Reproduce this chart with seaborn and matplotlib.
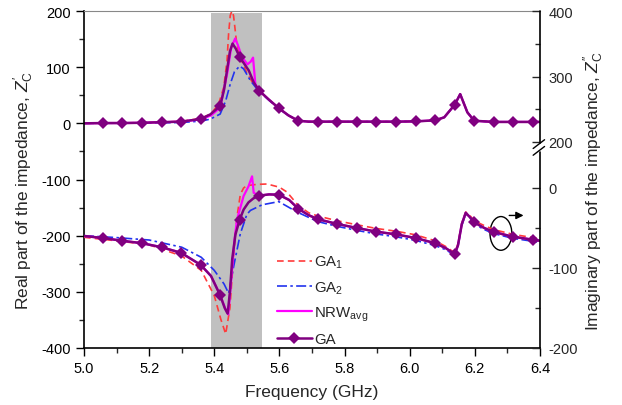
import numpy as np
import matplotlib
matplotlib.use("Agg")
import matplotlib.pyplot as plt
import seaborn as sns
from matplotlib.patches import Ellipse
from matplotlib.lines import Line2D
from matplotlib.ticker import MultipleLocator, FormatStrFormatter

# ---------------- data ----------------
# Real part (left axis) -- resonance region per series, common tail
real_ga_f = [5.0, 5.058, 5.118, 5.178, 5.238, 5.298, 5.358, 5.388, 5.418, 5.43, 5.439, 5.448,
             5.456, 5.466, 5.478, 5.506, 5.521, 5.538, 5.568, 5.598]
real_ga_v = [0, 0.5, 0.5, 1, 2, 3, 7.7, 16, 31, 60, 94, 128, 142, 133, 118, 94, 73, 58, 42, 27]

real_ga1_f = [5.0, 5.1, 5.2, 5.3, 5.36, 5.39, 5.413, 5.429, 5.439, 5.444, 5.449, 5.454,
              5.459, 5.463, 5.469, 5.48, 5.5, 5.52, 5.54, 5.568, 5.598]
real_ga1_v = [0, 0.5, 1.5, 3.5, 9, 17, 34, 64, 111, 160, 192, 200, 192, 172, 141, 117,
              90, 70, 57, 42, 27]

real_ga2_f = [5.0, 5.2, 5.3, 5.36, 5.388, 5.418, 5.435, 5.449, 5.462, 5.478, 5.49, 5.511,
              5.53, 5.54, 5.568, 5.598]
real_ga2_v = [0, 0.5, 1.5, 4, 7.6, 16.5, 40, 70, 92, 102, 97, 76, 62, 56, 41, 26]

real_nrw_f = [5.0, 5.058, 5.118, 5.178, 5.238, 5.298, 5.358, 5.39, 5.418, 5.44, 5.452,
              5.464, 5.472, 5.485, 5.502, 5.512, 5.519, 5.526, 5.538, 5.568, 5.598]
real_nrw_v = [0, 0.5, 0.5, 1, 2, 3, 7, 14, 28, 90, 135, 151, 140, 118, 105, 110, 117, 70,
              58, 42, 27]

real_tail_f = [5.628, 5.658, 5.69, 5.718, 5.778, 5.838, 5.898, 5.958, 6.018, 6.078, 6.106,
               6.138, 6.155, 6.177, 6.198, 6.258, 6.318, 6.378, 6.4]
real_tail_v = [14, 4.6, 3, 3, 3, 3, 3, 3, 3.5, 5.3, 10.7, 33, 52, 19.6, 4.6, 2.5, 2.5, 2.5, 2.5]

# Imaginary part (right axis)
imag_ga_f = [5.0, 5.058, 5.118, 5.178, 5.238, 5.298, 5.358, 5.39, 5.418, 5.432, 5.441,
             5.448, 5.455, 5.465, 5.478, 5.49, 5.505, 5.52]
imag_ga_v = [-60, -62.5, -66, -69, -74, -81, -96, -110, -134, -150, -157, -130, -89, -58,
             -39.6, -27, -18, -13]

imag_nrw_f = [5.0, 5.058, 5.118, 5.178, 5.238, 5.298, 5.358, 5.39, 5.418, 5.435, 5.443,
              5.452, 5.462, 5.47, 5.49, 5.505, 5.516, 5.521]
imag_nrw_v = [-60, -62.5, -66, -69, -74, -81, -96, -110, -134, -152, -158, -115, -65, -39,
              -10, 2, 14.6, -6]

imag_tail_f = [5.538, 5.568, 5.598, 5.63, 5.658, 5.69, 5.718, 5.778, 5.838, 5.898, 5.958,
               6.018, 6.078, 6.11, 6.138, 6.148, 6.16, 6.172, 6.186, 6.198, 6.229, 6.258,
               6.318, 6.378, 6.4]
imag_tail_v = [-9.6, -8, -8.4, -15, -26, -34, -39, -45, -50, -54.6, -58, -62.5, -69, -75,
               -82.5, -72, -45, -31, -37, -43, -50, -55, -61, -64.6, -66]

imag_ga1_f = [5.0, 5.1, 5.2, 5.3, 5.36, 5.4, 5.42, 5.435, 5.448, 5.46, 5.47, 5.48, 5.49,
              5.5, 5.53, 5.562, 5.6, 5.623, 5.658, 5.69, 5.718, 5.778, 5.838, 5.898, 5.958,
              6.018, 6.078, 6.11, 6.138, 6.148, 6.16, 6.172, 6.186, 6.198, 6.229, 6.258,
              6.318, 6.378, 6.4]
imag_ga1_v = [-61.6, -66, -71, -85, -103, -134.6, -164, -182.5, -150, -80, -35, -8, 0, 3,
              4.5, 5, 1, -5, -22, -31, -35, -41, -46, -50.6, -54, -58.5, -66, -73, -81,
              -70, -44, -30, -35, -41, -47, -52, -58, -62, -63]

imag_ga2_f = [5.0, 5.1, 5.2, 5.3, 5.36, 5.4, 5.43, 5.444, 5.46, 5.48, 5.5, 5.511, 5.547,
              5.598, 5.654, 5.718, 5.778, 5.838, 5.898, 5.958, 6.018, 6.078, 6.11, 6.138,
              6.148, 6.16, 6.172, 6.186, 6.198, 6.229, 6.258, 6.318, 6.378, 6.4]
imag_ga2_v = [-59.6, -62, -65, -74, -86.6, -103, -120, -131.6, -97, -57, -33, -28, -21,
              -17, -30, -42, -48, -53, -57.5, -61, -65.5, -72, -77, -84, -73, -47, -32,
              -38, -45, -52, -57, -63, -66.6, -68]

# frequencies where the GA curve carries a diamond marker
ga_marker_f = [5.058, 5.118, 5.178, 5.238, 5.298, 5.358, 5.418, 5.478, 5.538, 5.598, 5.658,
               5.718, 5.778, 5.838, 5.898, 5.958, 6.018, 6.078, 6.138, 6.198, 6.258, 6.318,
               6.378]

band = (5.389, 5.545)  # shaded region (GHz)

labels = ["GA$_\\mathrm{1}$", "GA$_\\mathrm{2}$", "NRW$_\\mathrm{avg}$", "GA"]

# ---------------- styling ----------------
sns.set_style("ticks")
plt.rcParams['font.family'] = ['Liberation Sans', 'DejaVu Sans']
plt.rcParams['mathtext.fontset'] = 'custom'
plt.rcParams['mathtext.rm'] = 'Liberation Sans'
plt.rcParams['mathtext.it'] = 'Liberation Sans:italic'
plt.rcParams['mathtext.bf'] = 'Liberation Sans:bold'
plt.rcParams['axes.unicode_minus'] = False

c_ga1, c_ga2, c_nrw, c_ga = '#ff3b3b', '#2233ee', '#ff00ff', '#800080'
ls_ga1 = (0, (4, 2.5))
ls_ga2 = (0, (6, 2, 1.5, 2))
msize = 6.5

fig = plt.figure(figsize=(6.22, 4.06), dpi=100)
ax = fig.add_axes([84 / 622, 57 / 406, 456 / 622, 337 / 406])
ax2 = ax.twinx()

# piecewise (broken) scale for the right axis
def fwd(v):
    v = np.asarray(v, float)
    return np.where(v <= 57.5, (v + 200) * 0.8,
                    np.where(v >= 200, 206 + (v - 200) * 0.655, 206.0))

def inv(u):
    u = np.asarray(u, float)
    return np.where(u <= 206, u / 0.8 - 200, 200 + (u - 206) / 0.655)

ax2.set_yscale('function', functions=(fwd, inv))

ax.axvspan(band[0], band[1], ymin=0, ymax=0.993, color='#c0c0c0', lw=0, zorder=0)

def cat(a, b):
    return np.array(list(a) + list(b), float)

def mk_idx(f):
    f = np.asarray(f)
    return [i for i, x in enumerate(f) if np.any(np.isclose(x, ga_marker_f, atol=1e-4))]

# Real part -> left axis
sns.lineplot(x=cat(real_ga1_f, real_tail_f), y=cat(real_ga1_v, real_tail_v), ax=ax,
             color=c_ga1, lw=1.2, linestyle=ls_ga1, estimator=None, sort=False)
sns.lineplot(x=cat(real_ga2_f, real_tail_f), y=cat(real_ga2_v, real_tail_v), ax=ax,
             color=c_ga2, lw=1.2, linestyle=ls_ga2, estimator=None, sort=False)
sns.lineplot(x=cat(real_nrw_f, real_tail_f), y=cat(real_nrw_v, real_tail_v), ax=ax,
             color=c_nrw, lw=1.6, estimator=None, sort=False)
fr = cat(real_ga_f, real_tail_f)
sns.lineplot(x=fr, y=cat(real_ga_v, real_tail_v), ax=ax, color=c_ga, lw=1.8,
             marker='D', markersize=msize, markevery=mk_idx(fr), markeredgewidth=0,
             estimator=None, sort=False)

# Imaginary part -> right axis
sns.lineplot(x=imag_ga1_f, y=imag_ga1_v, ax=ax2, color=c_ga1, lw=1.2, linestyle=ls_ga1,
             estimator=None, sort=False)
sns.lineplot(x=imag_ga2_f, y=imag_ga2_v, ax=ax2, color=c_ga2, lw=1.2, linestyle=ls_ga2,
             estimator=None, sort=False)
sns.lineplot(x=cat(imag_nrw_f, imag_tail_f), y=cat(imag_nrw_v, imag_tail_v), ax=ax2,
             color=c_nrw, lw=1.6, estimator=None, sort=False)
fi = cat(imag_ga_f, imag_tail_f)
sns.lineplot(x=fi, y=cat(imag_ga_v, imag_tail_v), ax=ax2, color=c_ga, lw=1.8,
             marker='D', markersize=msize, markevery=mk_idx(fi), markeredgewidth=0,
             estimator=None, sort=False)

# axes limits / ticks
ax.set_xlim(5.0, 6.4)
ax.set_ylim(-400, 200)
ax2.set_ylim(-200, 400)
ax.xaxis.set_major_locator(MultipleLocator(0.2))
ax.xaxis.set_minor_locator(MultipleLocator(0.1))
ax.xaxis.set_major_formatter(FormatStrFormatter('%.1f'))
ax.yaxis.set_major_locator(MultipleLocator(100))
ax.yaxis.set_minor_locator(MultipleLocator(50))
ax.yaxis.set_major_formatter(FormatStrFormatter('%d'))
ax2.set_yticks([-200, -100, 0, 200, 300, 400])
ax2.set_yticks([-150, -50, 250, 350], minor=True)
ax2.yaxis.set_major_formatter(FormatStrFormatter('%d'))

ax.tick_params(axis='both', which='major', direction='out', length=6, width=1,
               labelsize=10.5, colors='k', top=False, right=False)
ax.tick_params(axis='both', which='minor', direction='out', length=3.5, width=1,
               top=False, right=False)
ax2.tick_params(axis='y', which='major', direction='in', length=6, width=1,
                labelsize=10.5, right=True, left=False, pad=6)
ax2.tick_params(axis='y', which='minor', direction='in', length=3.5, width=1,
                right=True, left=False)

for s in ['left', 'bottom']:
    ax.spines[s].set_linewidth(1.2)
    ax.spines[s].set_color('k')
ax.spines['right'].set_visible(False)
ax.spines['top'].set_color('#888888')
ax.spines['top'].set_linewidth(0.8)
for s in ['left', 'bottom', 'top', 'right']:
    ax2.spines[s].set_visible(False)

# broken right spine
kw = dict(transform=ax2.transAxes, color='k', lw=1.2, clip_on=False)
ax2.add_artist(Line2D([1, 1], [0, 0.583], **kw))
ax2.add_artist(Line2D([1, 1], [0.607, 1], **kw))
ax2.add_artist(Line2D([0.985, 1.01], [0.572, 0.598], transform=ax2.transAxes, color='k',
                      lw=1.0, clip_on=False))
ax2.add_artist(Line2D([0.985, 1.01], [0.592, 0.618], transform=ax2.transAxes, color='k',
                      lw=1.0, clip_on=False))

# labels
lab_fs = 12.5
ax.set_xlabel("Frequency (GHz)", fontsize=lab_fs)
ax.set_ylabel("Real part of the impedance, $\\mathit{Z}_\\mathrm{C}^{\\prime}$", fontsize=lab_fs)
ax2.set_ylabel("Imaginary part of the impedance, $\\mathit{Z}_\\mathrm{C}^{\\prime\\prime}$",
               fontsize=lab_fs, rotation=90)
ax.yaxis.label.set_verticalalignment('center')
ax2.yaxis.label.set_verticalalignment('center')
ax.yaxis.set_label_coords(-0.132, 0.472)
ax2.yaxis.set_label_coords(1.118, 0.468)
ax.xaxis.label.set_verticalalignment('top')
ax.xaxis.set_label_coords(0.5, -0.108)

# ellipse + arrow indicating right axis
ax.add_patch(Ellipse((6.28, -196), 0.067, 60, fill=False, ec='k', lw=1.0, zorder=5))
ax.annotate('', xy=(6.358, -164), xytext=(6.297, -164),
            arrowprops=dict(arrowstyle='-|>', color='k', lw=1.0, mutation_scale=11))

# legend
handles = [
    Line2D([], [], color=c_ga1, lw=1.2, linestyle=ls_ga1),
    Line2D([], [], color=c_ga2, lw=1.2, linestyle=ls_ga2),
    Line2D([], [], color=c_nrw, lw=1.6),
    Line2D([], [], color=c_ga, lw=1.8, marker='D', markersize=msize, markeredgewidth=0),
]
leg = ax2.legend(handles, labels, loc='upper left', frameon=False, fontsize=10.8,
                 bbox_to_anchor=(277 / 622, 1 - 255 / 406), bbox_transform=fig.transFigure,
                 borderaxespad=0, borderpad=0, handlelength=2.3, handletextpad=0.2,
                 labelspacing=0.6)

fig.savefig("out.png", dpi=100)
